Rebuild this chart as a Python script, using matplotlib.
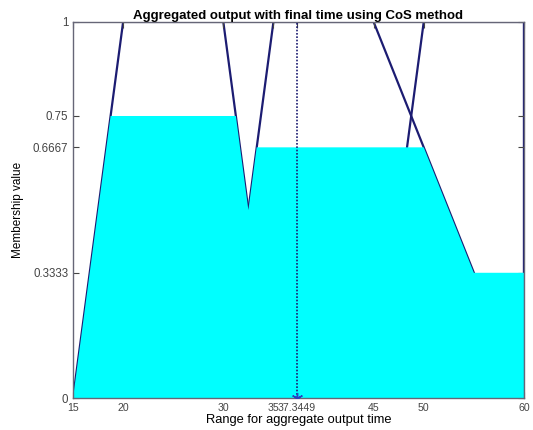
import matplotlib
matplotlib.use('Agg')
import matplotlib.pyplot as plt

plt.rcParams['font.family'] = ['Liberation Sans', 'DejaVu Sans']

# membership functions (trapezoids)
mf1_x = [15, 20, 30, 35]
mf1_y = [0, 1, 1, 0]
mf2_x = [30, 35, 45, 60]
mf2_y = [0, 1, 1, 0]
mf3_x = [45, 50, 60, 60]
mf3_y = [0, 1, 1, 0]

# aggregated (clipped) output outline
agg_x = [15, 18.75, 31.25, 32.5, 33.33, 50, 55, 60, 60]
agg_y = [0, 0.75, 0.75, 0.5, 0.6667, 0.6667, 0.3333, 0.3333, 0]

# CoS result
cos_x = 37.3449

xticks = [15, 20, 30, 35, 37.3449, 45, 50, 60]
xtick_labels = ['15', '20', '30', '35', '37.3449', '45', '50', '60']
yticks = [0, 0.3333, 0.6667, 0.75, 1]
ytick_labels = ['0', '0.3333', '0.6667', '0.75', '1']

line_col = '#1c1c72'

fig = plt.figure(figsize=(5.33, 4.30), dpi=100)
ax = fig.add_axes([0.137, 0.074, 0.846, 0.875])

for xs, ys in [(mf1_x, mf1_y), (mf2_x, mf2_y), (mf3_x, mf3_y)]:
    ax.plot(xs, ys, color=line_col, lw=1.6, zorder=1)

ax.fill(agg_x, agg_y, color='#00ffff', lw=0, zorder=2)

ax.plot([cos_x, cos_x], [0, 1], color=line_col, lw=1.2,
        ls=(0, (1, 1)), zorder=3)
ax.plot([cos_x], [0], marker=(6, 2, 0), color='#2a3fc0', ms=8,
        mew=1.0, zorder=4)

ax.set_xlim(15, 60)
ax.set_ylim(0, 1)
ax.set_xticks(xticks)
ax.set_xticklabels(xtick_labels)
ax.set_yticks(yticks)
ax.set_yticklabels(ytick_labels)
ax.tick_params(direction='in', top=True, right=True, length=4,
               colors='#444444')
ax.tick_params(axis='x', labelsize=7.6)
ax.tick_params(axis='y', labelsize=8.3)
for s in ax.spines.values():
    s.set_color('#666677')
    s.set_linewidth(1.0)

ax.set_title('Aggregated output with final time using CoS method',
             fontsize=9.5, fontweight='bold', pad=2)
ax.set_xlabel('Range for aggregate output time', fontsize=9.3, labelpad=1)
ax.set_ylabel('Membership value', fontsize=8.5, labelpad=6)

fig.savefig('out.png', dpi=100)
